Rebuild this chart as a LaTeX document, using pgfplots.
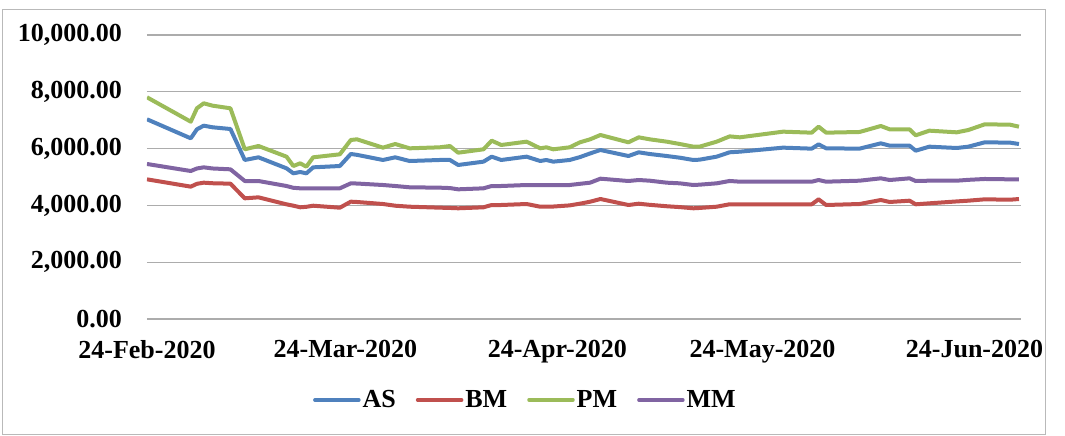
\documentclass[border=0pt]{standalone}
\usepackage{pgfplots}
\usepackage{pgfplotstable}
\pgfplotsset{compat=1.18}
\usepackage{fontspec}
\setmainfont{Liberation Serif}
\definecolor{cAS}{HTML}{4F81BD}
\definecolor{cBM}{HTML}{C0504D}
\definecolor{cPM}{HTML}{9BBB59}
\definecolor{cMM}{HTML}{8064A2}
\pgfplotstableread{
x AS BM PM MM
0.0 7032 4918 7806 5458
6.4 6362 4660 6948 5211
7.3 6679 4760 7419 5300
8.3 6807 4800 7595 5340
9.6 6750 4780 7511 5300
12.2 6690 4765 7419 5270
14.3 5599 4249 5975 4859
16.3 5693 4284 6092 4859
20.4 5305 4038 5716 4683
21.4 5129 3990 5387 4620
22.4 5176 3933 5482 4601
23.3 5129 3950 5363 4601
24.3 5340 3989 5693 4601
28.2 5387 3919 5799 4601
29.8 5810 4131 6303 4777
30.7 5780 4120 6327 4770
34.5 5599 4049 6033 4718
36.3 5693 3989 6162 4683
38.4 5563 3954 6010 4637
42.8 5599 3920 6045 4624
44.3 5599 3910 6090 4610
45.5 5423 3898 5856 4566
49.2 5540 3933 5975 4601
50.4 5716 4014 6279 4683
51.8 5599 4014 6127 4683
55.5 5716 4049 6244 4718
57.5 5563 3954 6010 4718
58.4 5599 3960 6045 4718
59.4 5540 3960 5975 4718
61.8 5599 4000 6045 4718
63.3 5700 4060 6221 4760
64.8 5830 4130 6327 4800
66.3 5951 4225 6479 4941
70.4 5739 4014 6221 4859
71.9 5869 4060 6397 4894
73.5 5810 4020 6327 4870
76.0 5739 3970 6244 4800
77.9 5680 3940 6162 4777
79.9 5599 3898 6068 4718
80.8 5610 3910 6068 4730
83.3 5716 3954 6244 4777
85.2 5870 4040 6430 4860
86.7 5892 4038 6397 4835
93.0 6033 4038 6596 4835
97.2 5998 4038 6561 4835
98.2 6150 4214 6772 4894
99.3 6010 4014 6561 4835
104.2 5998 4049 6585 4870
107.3 6185 4190 6796 4953
108.6 6104 4120 6678 4894
111.5 6104 4166 6678 4953
112.4 5927 4038 6467 4859
114.4 6068 4073 6631 4870
118.4 6021 4140 6573 4870
120.1 6068 4166 6655 4900
122.5 6221 4214 6855 4930
126.2 6209 4200 6842 4918
127.5 6162 4225 6772 4918
}\data
\begin{document}
\begin{tikzpicture}
\begin{axis}[
  name=ax,
  scale only axis,
  width=874pt, height=284pt,
  xmin=0, xmax=127.8,
  ymin=0, ymax=10000,
  ytick={0,2000,4000,6000,8000,10000},
  xtick={0,29,60,90,121},
  xticklabels={24-Feb-2020,24-Mar-2020,24-Apr-2020,24-May-2020,24-Jun-2020},
  ymajorgrids,
  grid style={color=gray!65, line width=1.2pt},
  axis line style={draw=none},
  major tick length=0pt,
  tick label style={font=\fontsize{26}{30}\selectfont\bfseries, inner sep=0pt},
  yticklabel style={xshift=-25pt},
  xticklabel style={yshift=-21pt},
  /pgf/number format/.cd, fixed, fixed zerofill, precision=2, 1000 sep={,}, assume math mode=true,
  /pgfplots/.cd,
  scaled y ticks=false,
  legend columns=4,
  legend style={draw=none, fill=none, at={(rel axis cs:0.433,-0.285)}, anchor=center,
    font=\fontsize{26}{30}\selectfont\bfseries,
    /tikz/every even column/.append style={column sep=18pt}},
  legend image code/.code={\draw[#1, line width=3.5pt, line cap=round] (0pt,0pt) -- (44pt,0pt);},
  every axis plot/.append style={line width=4pt, line join=round},
]
\addplot[cAS] table[x=x,y=AS]{\data};
\addplot[cBM] table[x=x,y=BM]{\data};
\addplot[cPM] table[x=x,y=PM]{\data};
\addplot[cMM] table[x=x,y=MM]{\data};
\legend{AS,BM,PM,MM}
\end{axis}
\draw[gray!55, line width=1pt] ([xshift=-144pt,yshift=-115pt]ax.south west) rectangle ([xshift=24pt,yshift=25pt]ax.north east);
\pgfresetboundingbox
\path ([xshift=-147pt,yshift=-117pt]ax.south west) rectangle ([xshift=44pt,yshift=35pt]ax.north east);
\end{tikzpicture}
\end{document}
